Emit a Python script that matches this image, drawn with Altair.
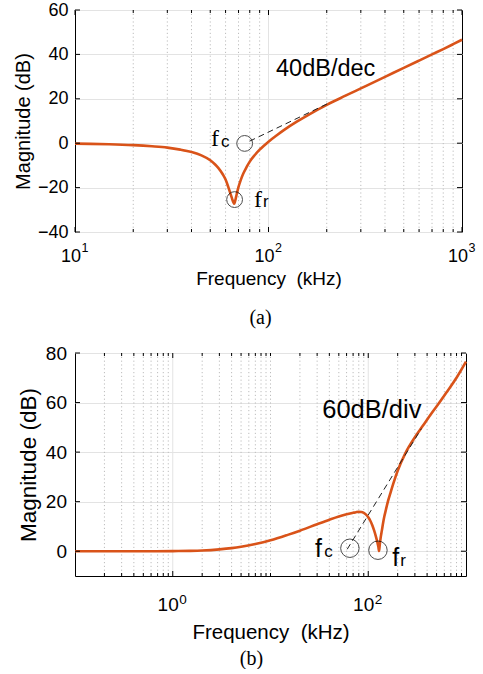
import altair as alt
import pandas as pd

# ---------------- Panel (a) data ----------------
A_FREQ = [10, 12, 15, 20, 25, 30, 35, 40, 45, 50, 53, 55, 58, 60, 62, 64, 65, 66, 66.5, 67,
          68, 69, 70, 72, 74, 77, 80, 85, 90, 95, 100, 110, 120, 140, 160, 200, 250, 300, 400, 500,
          600, 700, 800, 900, 1000]
A_MAG = [-0.21, -0.31, -0.48, -0.88, -1.4, -2.0, -2.9, -4.0, -5.5, -7.7, -9.6, -11.1, -14.0, -16.4, -19.8, -23.5, -25.3, -26.8, -27.3, -26.5,
         -24.2, -21.8, -19.7, -16.4, -13.8, -10.8, -8.3, -5.3, -2.9, -1.0, 0.7, 3.5, 5.9, 9.7, 12.7, 17.3, 21.4, 24.7, 29.9, 33.9,
         37.2, 40.0, 42.4, 44.6, 46.6]
A_XMINOR = [20, 30, 40, 50, 60, 70, 80, 90, 200, 300, 400, 500, 600, 700, 800, 900]
A_XMAJOR = [100]
A_XTICKS = [10, 100, 1000]
A_XEXP = ["1", "2", "3"]
A_YTICKS = [-40, -20, 0, 20, 40, 60]
A_ASYM_F = [79.8, 203]
A_ASYM_DB = [0.9, 17.9]
A_MARK_F = [75.3, 66.8]
A_MARK_DB = [-0.1, -25.4]
A_LAB_F = [50.5, 84.1]
A_LAB_DB = [-1.35, -28.8]
A_LAB = ["f", "f"]
A_SUB_F = [56.8, 93.7]
A_SUB_DB = [-1.8, -28.8]
A_SUB = ["c", "r"]
A_NOTE = ["40dB/dec"]
A_NOTE_F = [109.4]
A_NOTE_DB = [30.2]

# ---------------- Panel (b) data ----------------
B_FREQ = [0.1, 0.2, 0.5, 1, 1.5, 2, 3, 4, 5, 7, 10, 15, 20, 30, 40, 50, 60, 70, 75, 80,
          85, 90, 95, 100, 105, 110, 115, 120, 124, 127, 129, 131, 134, 138, 142, 146, 150, 160, 170, 180,
          200, 240, 300, 360, 450, 530, 650, 800, 1000]
B_MAG = [0, 0, 0, 0.05, 0.15, 0.3, 0.75, 1.25, 1.8, 2.9, 4.4, 6.6, 8.3, 10.9, 12.7, 14.0, 14.9, 15.5, 15.75, 15.9,
         15.85, 15.5, 14.8, 13.7, 12.3, 10.5, 8.3, 5.8, 3.6, 1.7, 0.1, 2.5, 5.5, 8.5, 11.5, 14.0, 16.0, 20.5, 24.0, 27.2,
         32.5, 39.6, 46.0, 50.5, 56.0, 59.8, 64.8, 70.0, 76.5]
B_XMINOR = [0.2, 0.3, 0.4, 0.5, 0.6, 0.7, 0.8, 0.9, 2, 3, 4, 5, 6, 7, 8, 9, 10,
            20, 30, 40, 50, 60, 70, 80, 90, 200, 300, 400, 500, 600, 700, 800, 900]
B_XMAJOR = [1, 100]
B_XTICKS = [1, 100]
B_XEXP = ["0", "2"]
B_YTICKS = [0, 20, 40, 60, 80]
B_ASYM_F = [60.9, 350]
B_ASYM_DB = [0.8, 49.5]
B_MARK_F = [64.9, 125.7]
B_MARK_DB = [1.2, 0.4]
B_LAB_F = [28.6, 176.2]
B_LAB_DB = [-2.5, -5.9]
B_LAB = ["f", "f"]
B_SUB_F = [35.4, 212.9]
B_SUB_DB = [-2.5, -5.9]
B_SUB = ["c", "r"]
B_NOTE = ["60dB/div"]
B_NOTE_F = [33.8]
B_NOTE_DB = [53.6]

SANS = "Liberation Sans"
SERIF = "Liberation Serif"
ORANGE = "#D95319"


def panel(freq, mag, xdom, ydom, W, H, xminor, xmajor, xticks, xexp, yticks,
          asym_f, asym_db, mark_f, mark_db, lab_f, lab_db, lab, sub_f, sub_db, sub,
          note, note_f, note_db, s):
    fs_tick = s["tick"]
    xenc = alt.X("f:Q", scale=alt.Scale(type="log", domain=xdom, nice=False),
                 axis=alt.Axis(labels=False, ticks=False, domain=False, grid=False,
                               title="Frequency\u00a0\u00a0(kHz)", titleFont=SANS,
                               titleFontSize=s["xtitle"], titleFontWeight="normal",
                               titleColor="black", titlePadding=s["xtitlepad"]))
    yenc = alt.Y("db:Q", scale=alt.Scale(domain=ydom, nice=False, zero=False),
                 axis=alt.Axis(values=yticks, ticks=False, domain=False, grid=True,
                               gridColor="#e3e3e3", gridWidth=1,
                               labelFont=SANS, labelFontSize=fs_tick, labelColor="black",
                               labelPadding=s["ylabpad"],
                               title="Magnitude (dB)", titleFont=SANS,
                               titleFontSize=s["ytitle"], titleFontWeight="normal",
                               titleColor="black", titlePadding=s["ytitlepad"]))

    minor_df = pd.DataFrame({"f": xminor})
    major_df = pd.DataFrame({"f": xmajor})
    xt_df = pd.DataFrame({"f": xticks, "e": xexp})
    yt_df = pd.DataFrame({"db": yticks})

    minor_grid = alt.Chart(minor_df).mark_rule(color="#bdbdbd", strokeDash=[1.2, 2.6], strokeWidth=1).encode(
        y=alt.value(0), y2=alt.value(H))
    major_grid = alt.Chart(major_df).mark_rule(color="#e3e3e3", strokeWidth=1).encode(
        y=alt.value(0), y2=alt.value(H))
    line = alt.Chart(pd.DataFrame({"f": freq, "db": mag})).mark_line(
        color=ORANGE, strokeWidth=2.6, interpolate="monotone")
    asym = alt.Chart(pd.DataFrame({"f": asym_f, "db": asym_db})).mark_line(
        color="#222222", strokeWidth=1, strokeDash=[6, 4])
    circles = alt.Chart(pd.DataFrame({"f": mark_f, "db": mark_db})).mark_point(
        shape="circle", filled=False, color="black", strokeWidth=1, size=s["circ"])
    labs = alt.Chart(pd.DataFrame({"f": lab_f, "db": lab_db, "t": lab})).mark_text(
        font=s["labfont"], fontSize=s["labsize"], align="left", baseline="alphabetic", color="black"
    ).encode(text="t:N")
    subs = alt.Chart(pd.DataFrame({"f": sub_f, "db": sub_db, "t": sub})).mark_text(
        font=SANS, fontSize=s["subsize"], align="left", baseline="alphabetic", color="black"
    ).encode(text="t:N")
    notes = alt.Chart(pd.DataFrame({"f": note_f, "db": note_db, "t": note})).mark_text(
        font=SANS, fontSize=s["note"], align="left", baseline="alphabetic", color="black"
    ).encode(text="t:N")

    # inward ticks on all four sides
    xmaj_b = alt.Chart(xt_df).mark_rule(color="black", strokeWidth=1).encode(
        y=alt.value(H - 5), y2=alt.value(H))
    xmaj_t = alt.Chart(xt_df).mark_rule(color="black", strokeWidth=1).encode(
        y=alt.value(0), y2=alt.value(5))
    xmin_b = alt.Chart(minor_df).mark_rule(color="black", strokeWidth=1).encode(
        y=alt.value(H - 3), y2=alt.value(H))
    xmin_t = alt.Chart(minor_df).mark_rule(color="black", strokeWidth=1).encode(
        y=alt.value(0), y2=alt.value(3))
    y_l = alt.Chart(yt_df).mark_rule(color="black", strokeWidth=1).encode(
        x=alt.value(0), x2=alt.value(5))
    y_r = alt.Chart(yt_df).mark_rule(color="black", strokeWidth=1).encode(
        x=alt.value(W - 5), x2=alt.value(W))

    # x tick labels: "10" with raised exponent
    xl_base = alt.Chart(xt_df).mark_text(
        text="10", font=SANS, fontSize=fs_tick, align="right", baseline="alphabetic",
        dx=6, color="black").encode(y=alt.value(H + s["xlab_y"]))
    xl_exp = alt.Chart(xt_df).mark_text(
        font=SANS, fontSize=s["exp"], align="left", baseline="alphabetic",
        dx=6.5, color="black").encode(y=alt.value(H + s["xexp_y"]), text="e:N")

    return alt.layer(
        minor_grid, major_grid, line, asym, circles, labs, subs, notes,
        xmaj_b, xmaj_t, xmin_b, xmin_t, y_l, y_r, xl_base, xl_exp
    ).encode(x=xenc, y=yenc).properties(
        width=W, height=H,
        title=alt.TitleParams(s["cap"], orient="bottom", font=SERIF, fontSize=s["capsize"],
                              fontWeight="normal", color="black", anchor="middle", frame="group",
                              dx=s["capdx"], offset=s["capoff"])
    )


pa = panel(A_FREQ, A_MAG, [10, 1000], [-40, 60], 387, 222, A_XMINOR, A_XMAJOR, A_XTICKS, A_XEXP,
           A_YTICKS, A_ASYM_F, A_ASYM_DB, A_MARK_F, A_MARK_DB, A_LAB_F, A_LAB_DB, A_LAB,
           A_SUB_F, A_SUB_DB, A_SUB, A_NOTE, A_NOTE_F, A_NOTE_DB,
           dict(tick=18, xtitle=19, ytitle=20, xtitlepad=37, ylabpad=7, ytitlepad=4,
                circ=250, labfont=SERIF, labsize=24, subsize=17, note=23.5,
                xlab_y=30, xexp_y=20, exp=12.5, cap="(a)", capsize=20, capdx=-8, capoff=20))

pb = panel(B_FREQ, B_MAG, [0.1, 1000], [-10, 80], 391, 223, B_XMINOR, B_XMAJOR, B_XTICKS, B_XEXP,
           B_YTICKS, B_ASYM_F, B_ASYM_DB, B_MARK_F, B_MARK_DB, B_LAB_F, B_LAB_DB, B_LAB,
           B_SUB_F, B_SUB_DB, B_SUB, B_NOTE, B_NOTE_F, B_NOTE_DB,
           dict(tick=19, xtitle=20.5, ytitle=22.5, xtitlepad=46, ylabpad=8.5, ytitlepad=5,
                circ=340, labfont=SANS, labsize=25, subsize=17, note=25.5,
                xlab_y=35, xexp_y=28, exp=13.5, cap="(b)", capsize=20, capdx=-19, capoff=6))

chart = alt.vconcat(pa, pb, spacing=14).properties(
    padding={"left": 12, "top": 0, "right": 0, "bottom": 0},
    background="white",
).configure_view(stroke="black", strokeWidth=1)

chart.save("out.html", embed_options={"renderer": "svg", "actions": False})
